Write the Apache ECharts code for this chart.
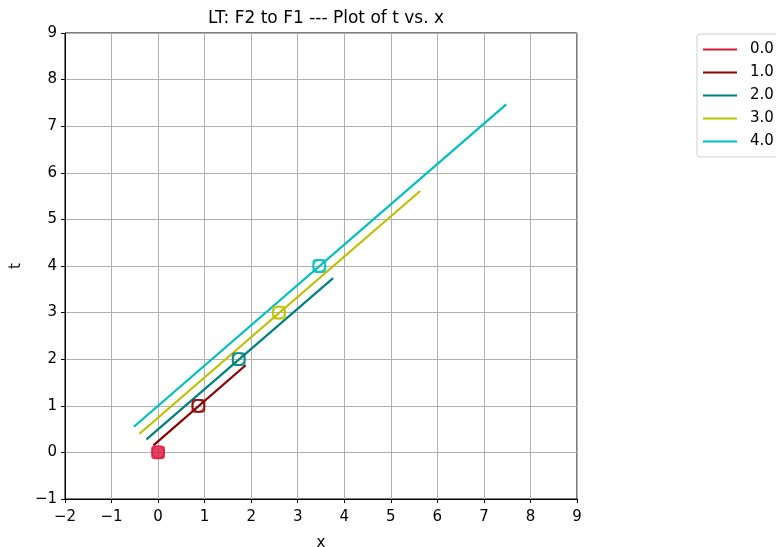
<!DOCTYPE html>
<html><head><meta charset="utf-8">
<script src="https://cdn.jsdelivr.net/npm/echarts@6/dist/echarts.min.js"></script>
<style>html,body{margin:0;padding:0;background:#fff}#c{width:776px;height:547px}</style>
</head><body><div id="c"></div>
<script>
const seriesNames = ['0.0', '1.0', '2.0', '3.0', '4.0'];
const seriesColors = ['#dc143c', '#8b0000', '#008080', '#bfbf00', '#00bfbf'];
// line segments (x, t) endpoints per series
const line0 = [[0, 0], [0, 0]];
const line1 = [[-0.10, 0.15], [1.88, 1.87]];
const line2 = [[-0.25, 0.28], [3.76, 3.74]];
const line3 = [[-0.40, 0.40], [5.63, 5.61]];
const line4 = [[-0.52, 0.55], [7.48, 7.47]];
const lines = [line0, line1, line2, line3, line4];
// marker points (x, t)
const markerX = [0, 0.866, 1.732, 2.598, 3.464];
const markerT = [0, 1, 2, 3, 4];
const xTicks = [-2, -1, 0, 1, 2, 3, 4, 5, 6, 7, 8, 9];
const tTicks = [-1, 0, 1, 2, 3, 4, 5, 6, 7, 8, 9];

const fmt = v => String(v).replace('-', '\u2212');
const font = 'DejaVu Sans';
const series = [];
lines.forEach((d, i) => {
  series.push({
    name: seriesNames[i], type: 'line', data: d, symbol: 'none',
    lineStyle: { color: seriesColors[i], width: 2.2 }, itemStyle: { color: seriesColors[i] },
    z: 2, animation: false
  });
});
markerX.forEach((x, i) => {
  const pt = [[x, markerT[i]]];
  const common = { type: 'scatter', data: pt, silent: true, animation: false, z: 3 };
  series.push(Object.assign({}, common, {
    symbol: 'path://M2,0 L8,0 Q10,0 10,2 L10,8 Q10,10 8,10 L2,10 Q0,10 0,8 L0,2 Q0,0 2,0 Z',
    symbolSize: 12,
    itemStyle: { color: 'none', borderColor: seriesColors[i], borderWidth: 1.8 }
  }));
  series.push(Object.assign({}, common, {
    symbol: 'circle', symbolSize: 12,
    itemStyle: { color: 'none', borderColor: seriesColors[i], borderWidth: 1.8 }
  }));
  if (i === 0) {
    series.push(Object.assign({}, common, {
      symbol: 'rect', symbolSize: 10,
      itemStyle: { color: seriesColors[i], opacity: 0.8 }
    }));
  }
});

const chart = echarts.init(document.getElementById('c'), null, { renderer: 'canvas' });
chart.setOption({
  animation: false,
  backgroundColor: '#fff',
  title: {
    text: 'LT: F2 to F1 --- Plot of t vs. x', left: 321, top: 5, textAlign: 'center',
    textStyle: { fontFamily: font, fontSize: 17, fontWeight: 'normal', color: '#000' }
  },
  legend: {
    data: seriesNames.map((n, i) => ({ name: n, icon: 'rect', itemStyle: { color: seriesColors[i] } })),
    orient: 'vertical', left: 697, top: 34, itemWidth: 34, itemHeight: 2, itemGap: 8,
    padding: [8, 10, 8, 6],
    backgroundColor: '#fff', borderColor: '#d0d0d0', borderWidth: 1, borderRadius: 3,
    textStyle: { fontFamily: font, fontSize: 15, color: '#000', padding: [0, 0, 0, 8] },
    selectedMode: false
  },
  grid: { left: 65, right: 199, top: 33, bottom: 48, show: true, borderColor: '#000', borderWidth: 1,
          containLabel: false, outerBoundsMode: 'none' },
  xAxis: {
    type: 'value', min: -2, max: 9, interval: 1,
    name: 'x', nameLocation: 'middle', nameGap: 37,
    nameTextStyle: { fontFamily: font, fontSize: 15, color: '#000' },
    axisLine: { show: true, onZero: false, lineStyle: { color: '#000' } },
    axisTick: { show: true, length: 4, lineStyle: { color: '#000' } },
    axisLabel: { fontFamily: font, fontSize: 15, color: '#000', margin: 11, formatter: v => fmt(v) },
    splitLine: { show: true, lineStyle: { color: '#b0b0b0', width: 1 } }
  },
  yAxis: {
    type: 'value', min: -1, max: 9, interval: 1,
    name: 't', nameLocation: 'middle', nameGap: 41, nameRotate: 90,
    nameTextStyle: { fontFamily: font, fontSize: 15, color: '#000' },
    axisLine: { show: true, onZero: false, lineStyle: { color: '#000' } },
    axisTick: { show: true, length: 4, lineStyle: { color: '#000' } },
    axisLabel: { fontFamily: font, fontSize: 15, color: '#000', margin: 8, formatter: v => fmt(v) },
    splitLine: { show: true, lineStyle: { color: '#b0b0b0', width: 1 } }
  },
  series: series
});
</script></body></html>
